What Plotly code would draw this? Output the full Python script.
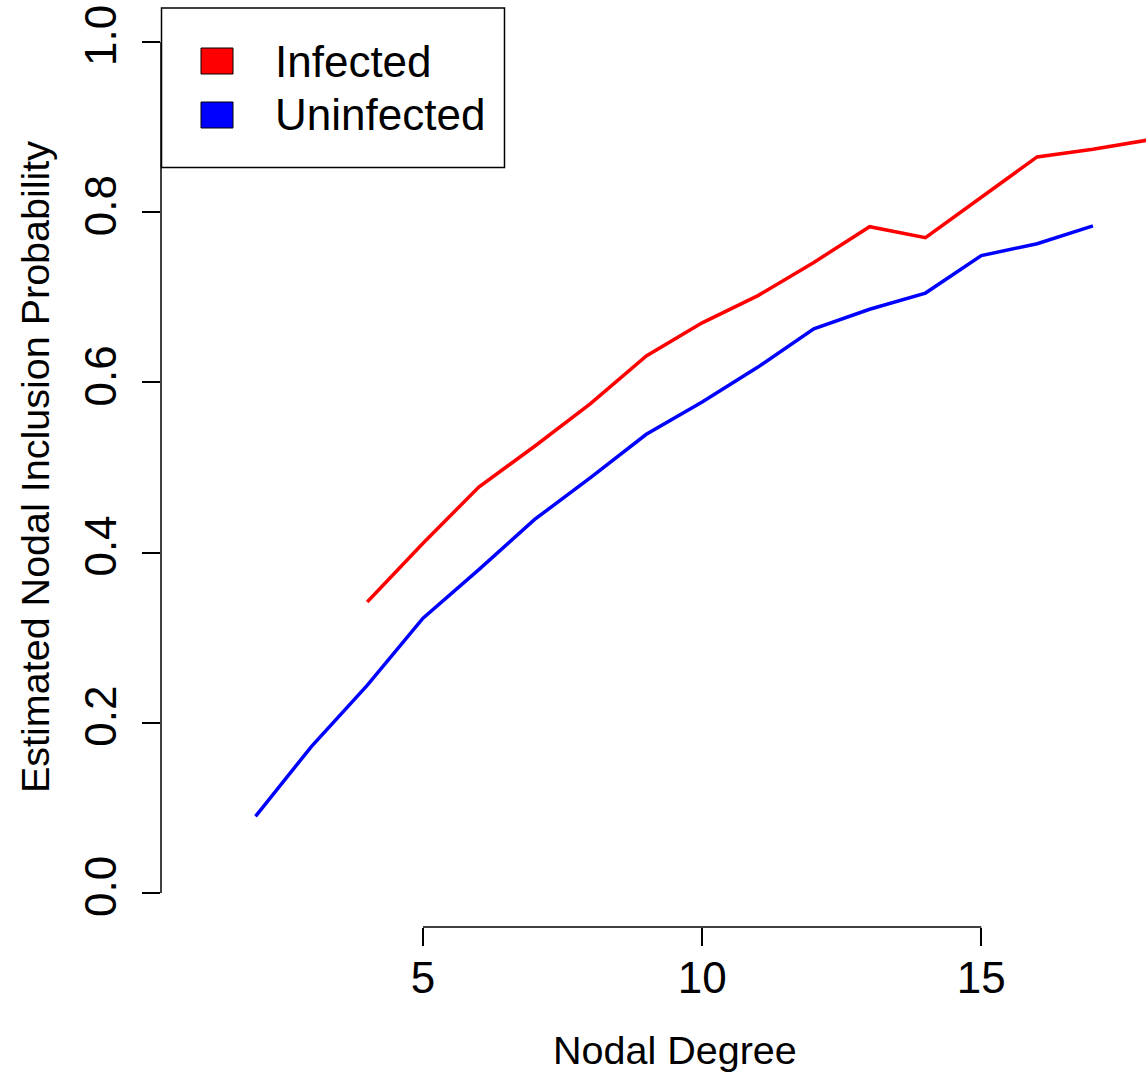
import plotly.graph_objects as go

# ---- data ----
degree_infected = [4, 5, 6, 7, 8, 9, 10, 11, 12, 13, 14, 15, 16, 17, 18]
prob_infected = [0.342, 0.411, 0.477, 0.525, 0.575, 0.631, 0.670, 0.702, 0.741,
                 0.783, 0.770, 0.817, 0.865, 0.874, 0.885]
degree_uninfected = [2, 3, 4, 5, 6, 7, 8, 9, 10, 11, 12, 13, 14, 15, 16, 17]
prob_uninfected = [0.090, 0.172, 0.244, 0.323, 0.380, 0.439, 0.488, 0.539, 0.577,
                   0.618, 0.663, 0.686, 0.705, 0.749, 0.763, 0.784]
series_names = ["Infected", "Uninfected"]
series_colors = ["#FF0000", "#0000FF"]
x_ticks = [5, 10, 15]
y_ticks = [0.0, 0.2, 0.4, 0.6, 0.8, 1.0]
y_tick_labels = ["0.0", "0.2", "0.4", "0.6", "0.8", "1.0"]
x_title = "Nodal Degree"
y_title = "Estimated Nodal Inclusion Probability"

W, H = 1146, 1075
ML, MR, MT, MB = 161, 0, 8, 148
PW, PH = W - ML - MR, H - MT - MB
FONT = "Liberation Sans, Arial, Helvetica, sans-serif"


def px_x(p):
    return (p - ML) / PW


def px_y(p):
    return (H - MB - p) / PH


fig = go.Figure()
for name, xs, ys, col in [
    (series_names[0], degree_infected, prob_infected, series_colors[0]),
    (series_names[1], degree_uninfected, prob_uninfected, series_colors[1]),
]:
    fig.add_trace(go.Scatter(x=xs, y=ys, mode="lines", name=name,
                             line=dict(color=col, width=3.5), showlegend=False,
                             hoverinfo="skip"))

shapes = []
# R-style axis lines spanning only the tick range
shapes.append(dict(type="line", xref="paper", yref="y", x0=0, x1=0,
                   y0=min(y_ticks), y1=max(y_ticks), line=dict(color="black", width=1.5)))
shapes.append(dict(type="line", xref="x", yref="paper", x0=min(x_ticks), x1=max(x_ticks),
                   y0=0, y1=0, line=dict(color="black", width=1.5)))
# legend box
shapes.append(dict(type="rect", xref="paper", yref="paper", x0=px_x(161.5), x1=px_x(504.5),
                   y0=px_y(167.5), y1=px_y(8), line=dict(color="black", width=1.5),
                   fillcolor="white", layer="above"))
annotations = []
for i, (name, col) in enumerate(zip(series_names, series_colors)):
    cy = 61 + i * 54
    shapes.append(dict(type="rect", xref="paper", yref="paper", x0=px_x(201), x1=px_x(233),
                       y0=px_y(cy + 13), y1=px_y(cy - 13), line=dict(color="black", width=1),
                       fillcolor=col, layer="above"))
    annotations.append(dict(text=name, xref="paper", yref="paper", x=px_x(273), y=px_y(cy),
                            xanchor="left", yanchor="middle", showarrow=False,
                            font=dict(size=44, color="black", family=FONT)))

annotations.append(dict(text=x_title, xref="paper", yref="paper", x=px_x(675), y=px_y(1050),
                        xanchor="center", yanchor="middle", showarrow=False,
                        font=dict(size=39.5, color="black", family=FONT)))
annotations.append(dict(text=y_title, xref="paper", yref="paper", x=px_x(35), y=px_y(467),
                        xanchor="center", yanchor="middle", showarrow=False, textangle=-90,
                        font=dict(size=39.5, color="black", family=FONT)))

fig.update_layout(
    width=W, height=H,
    margin=dict(l=ML, r=MR, t=MT, b=MB, pad=0),
    paper_bgcolor="white", plot_bgcolor="white",
    showlegend=False,
    shapes=shapes, annotations=annotations,
    font=dict(family=FONT, color="black"),
    xaxis=dict(range=[0.307, 17.95], tickvals=x_ticks, ticktext=[str(v) for v in x_ticks],
               ticks="outside", ticklen=18, tickwidth=1.5, tickcolor="black",
               showline=False, showgrid=False, zeroline=False,
               tickfont=dict(size=44, family=FONT, color="black"), ticklabelstandoff=-6),
    yaxis=dict(range=[-0.04, 1.04], tickvals=y_ticks, ticktext=y_tick_labels,
               ticks="outside", ticklen=18, tickwidth=1.5, tickcolor="black",
               showline=False, showgrid=False, zeroline=False, tickangle=-90,
               tickfont=dict(size=44, family=FONT, color="black"), ticklabelstandoff=8),
)

fig.write_html("out.html", config={"displayModeBar": False},
               post_script="document.body.style.margin='0';document.body.style.overflow='hidden';")
